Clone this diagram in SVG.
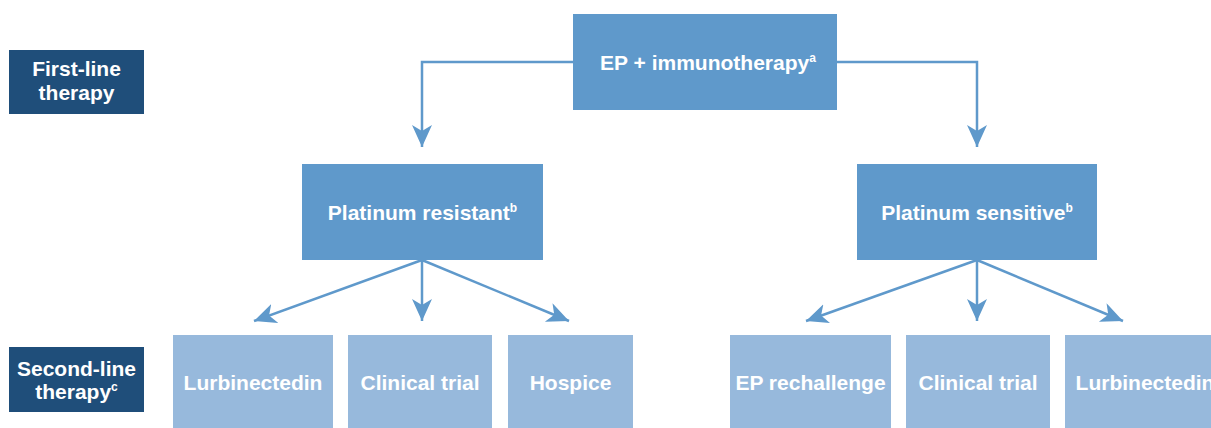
<svg xmlns="http://www.w3.org/2000/svg" width="1211" height="428" viewBox="0 0 1211 428">
<style>
.t{font-family:"Liberation Sans",Arial,sans-serif;font-weight:bold;fill:#fff;font-size:21px;text-anchor:middle}
.sup{font-size:12px}
.main{fill:#5F99CB}
.light{fill:#97B9DC}
.label{fill:#1F4E7A}
.c{fill:none;stroke:#5F99CB;stroke-width:2.5}
</style>
<defs>
<marker id="ah" markerUnits="userSpaceOnUse" markerWidth="24" markerHeight="22" refX="22" refY="10" orient="auto" viewBox="0 0 24 22">
<path d="M0,0 L22,10 L0,20 L6,10 Z" fill="#5F99CB"/>
</marker>
</defs>
<rect width="1211" height="428" fill="#fff"/>
<g id="connectors">
<path class="c" d="M573,62 H422 V147" marker-end="url(#ah)"/>
<path class="c" d="M837,62 H977 V147" marker-end="url(#ah)"/>
<path class="c" d="M422,260 L254,321" marker-end="url(#ah)"/>
<path class="c" d="M422,260 L422,321" marker-end="url(#ah)"/>
<path class="c" d="M422,260 L569,321" marker-end="url(#ah)"/>
<path class="c" d="M977,260 L806,321" marker-end="url(#ah)"/>
<path class="c" d="M977,260 L977,321" marker-end="url(#ah)"/>
<path class="c" d="M977,260 L1123,321" marker-end="url(#ah)"/>
</g>
<g id="label-first">
<rect class="label" x="9" y="50" width="135" height="64"/>
<text class="t" x="76.5" y="76">First-line</text>
<text class="t" x="76.5" y="100">therapy</text>
</g>
<g id="label-second">
<rect class="label" x="9" y="347" width="135" height="65"/>
<text class="t" x="76.5" y="376">Second-line</text>
<text class="t" x="76.5" y="399">therapy<tspan class="sup" dy="-8">c</tspan></text>
</g>
<g id="node-ep">
<rect class="main" x="573" y="14" width="264" height="96"/>
<text class="t" x="708" y="69.5">EP + immunotherapy<tspan class="sup" dy="-8">a</tspan></text>
</g>
<g id="node-resistant">
<rect class="main" x="302" y="164" width="241" height="96"/>
<text class="t" x="422.5" y="220">Platinum resistant<tspan class="sup" dy="-8">b</tspan></text>
</g>
<g id="node-sensitive">
<rect class="main" x="857" y="164" width="240" height="96"/>
<text class="t" x="977" y="220">Platinum sensitive<tspan class="sup" dy="-8">b</tspan></text>
</g>
<g id="node-lurb1">
<rect class="light" x="173" y="335" width="160" height="100"/>
<text class="t" x="253" y="390">Lurbinectedin</text>
</g>
<g id="node-trial1">
<rect class="light" x="348" y="335" width="144" height="100"/>
<text class="t" x="420" y="390">Clinical trial</text>
</g>
<g id="node-hospice">
<rect class="light" x="508" y="335" width="125" height="100"/>
<text class="t" x="570.5" y="390">Hospice</text>
</g>
<g id="node-rechallenge">
<rect class="light" x="730" y="335" width="161" height="100"/>
<text class="t" x="810.5" y="390">EP rechallenge</text>
</g>
<g id="node-trial2">
<rect class="light" x="906" y="335" width="144" height="100"/>
<text class="t" x="978" y="390">Clinical trial</text>
</g>
<g id="node-lurb2">
<rect class="light" x="1065" y="335" width="160" height="100"/>
<text class="t" x="1145" y="390">Lurbinectedin</text>
</g>
</svg>
